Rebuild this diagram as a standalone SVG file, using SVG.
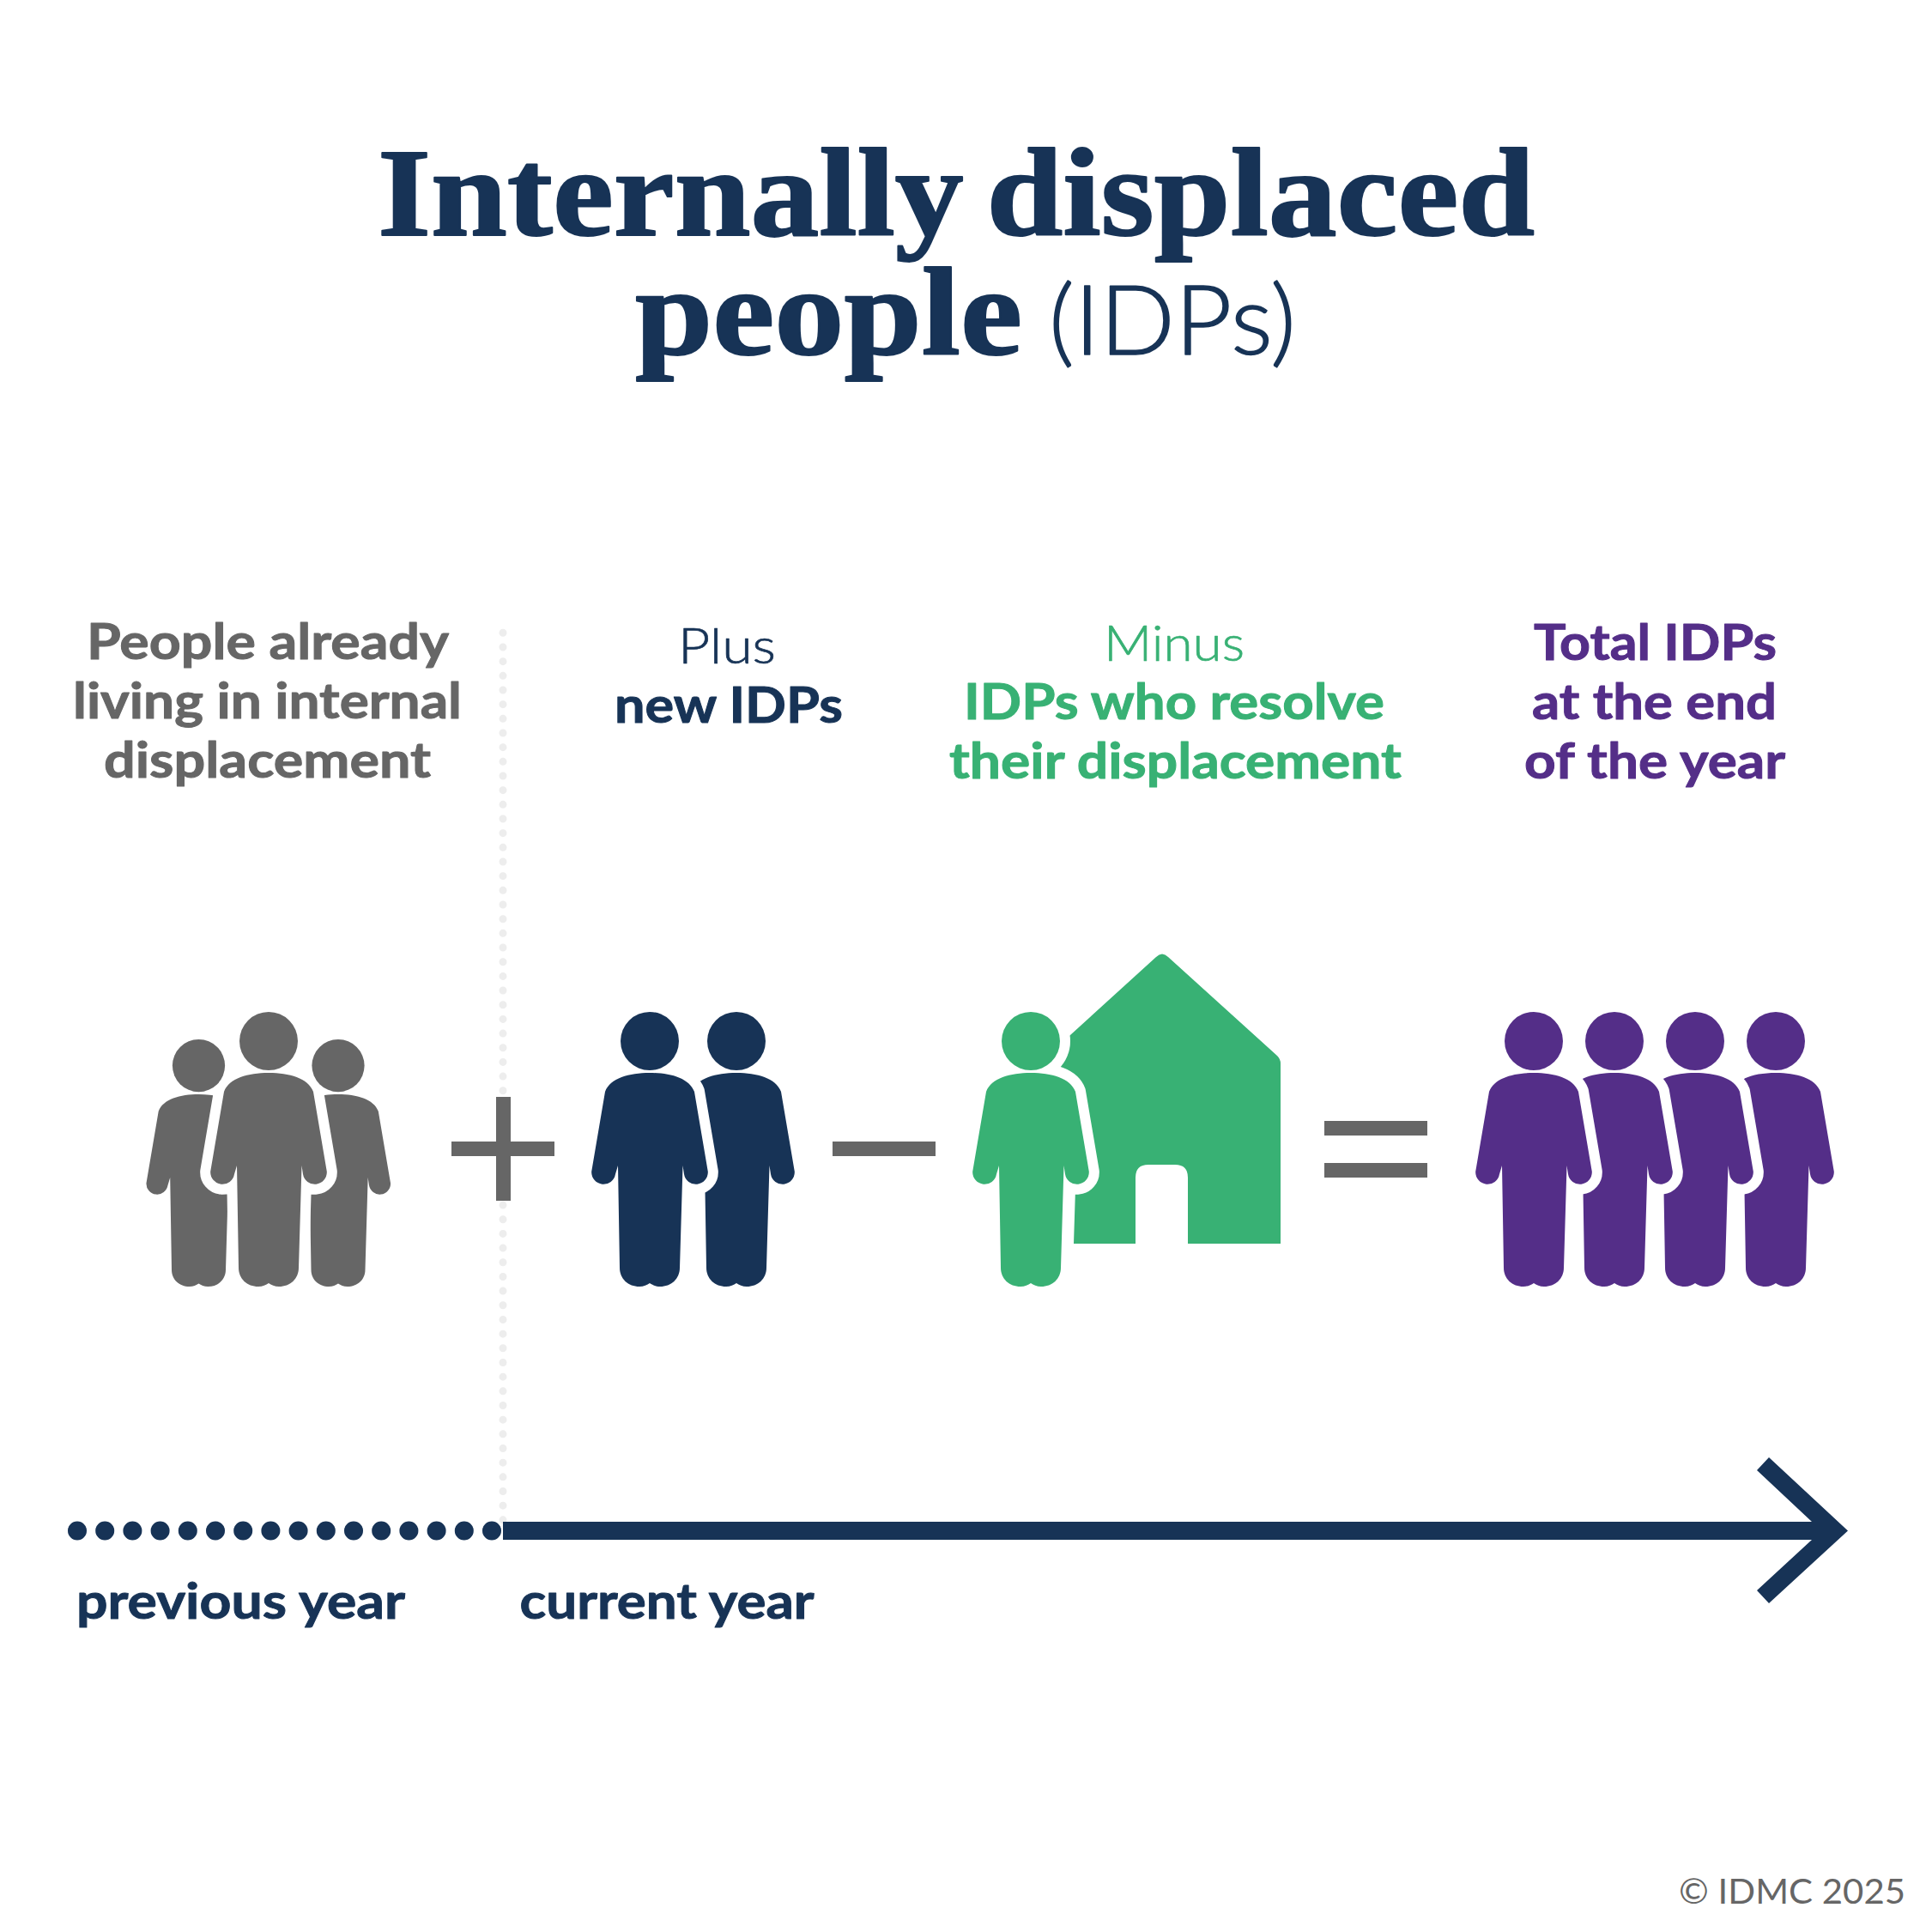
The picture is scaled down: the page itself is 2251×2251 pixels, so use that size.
<svg xmlns="http://www.w3.org/2000/svg" xmlns:xlink="http://www.w3.org/1999/xlink" width="2251" height="2251" viewBox="0 0 2251 2251">
<style>
text{font-family:"Lato","Liberation Sans",sans-serif;font-weight:700;font-size:58px;stroke-width:1;stroke-linejoin:round}
.lt{font-weight:300;stroke-width:.7}
.title{font-family:"Liberation Serif",serif;font-weight:700;font-size:147px;fill:#173356;stroke:#173356;stroke-width:2;word-spacing:-12px}
.navy{fill:#173356}.grey{fill:#666666}.green{fill:#38b174}.purple{fill:#542e88}
.navy text{stroke:#173356}.grey text{stroke:#666666}.green text{stroke:#38b174}.purple text{stroke:#542e88}
.front{stroke:#fff;stroke-width:24;stroke-linejoin:round;paint-order:stroke}
.dots{fill:none;stroke:#173356;stroke-width:22;stroke-linecap:round;stroke-dasharray:0 32.2}
.vdots{fill:none;stroke:#ededed;stroke-width:9;stroke-linecap:round;stroke-dasharray:0 16.67}
</style>
<defs>
<path id="body" d="M0 1250C24 1250 46 1256 52 1272L67.8 1365A14 14 0 0 1 40 1368L38.500 1358L35 1477C35 1490 25 1499 12 1499C7 1499 3 1497 0 1495C-3 1497 -7 1499 -12 1499C-25 1499 -35 1490 -35 1477L-37 1358L-40 1368A14 14 0 0 1 -67.800 1365L-52 1272C-46 1256 -24 1250 0 1250Z"/>
<circle id="head" cx="0" cy="1213" r="34"/>
</defs>
<rect width="2251" height="2251" fill="#fff"/>

<g id="title">
<text class="title" x="440" y="274" textLength="1348" lengthAdjust="spacingAndGlyphs">Internally displaced</text>
<text class="title" x="740" y="413" textLength="451" lengthAdjust="spacingAndGlyphs">people</text>
<text class="lt" x="1222" y="413" style="font-size:112px;fill:#173356;stroke:#173356;stroke-width:1.500" textLength="288" lengthAdjust="spacingAndGlyphs">(IDPs)</text>
</g>

<g id="connectors">
<line class="vdots" x1="586" y1="737.300" x2="586" y2="1772"/>
<line class="dots" x1="90" y1="1783.500" x2="575" y2="1783.500"/>
<path id="timeline-arrow" class="navy" d="M586 1773H2111L2047 1713L2061 1698L2153 1783.500L2061 1868L2047 1853L2111 1794H586Z"/>
</g>

<g id="label-already" class="grey">
<text x="101" y="768" textLength="422" lengthAdjust="spacingAndGlyphs">People already</text>
<text x="85" y="837" textLength="453" lengthAdjust="spacingAndGlyphs">living in internal</text>
<text x="121" y="906" textLength="381" lengthAdjust="spacingAndGlyphs">displacement</text>
</g>
<g id="label-plus" class="navy">
<text class="lt" x="790" y="773" textLength="114" lengthAdjust="spacingAndGlyphs">Plus</text>
<text x="716" y="842" textLength="266" lengthAdjust="spacingAndGlyphs">new IDPs</text>
</g>
<g id="label-minus" class="green">
<text class="lt" x="1286" y="770" textLength="164" lengthAdjust="spacingAndGlyphs">Minus</text>
<text x="1123" y="838" textLength="490" lengthAdjust="spacingAndGlyphs">IDPs who resolve</text>
<text x="1106" y="907" textLength="527" lengthAdjust="spacingAndGlyphs">their displacement</text>
</g>
<g id="label-total" class="purple">
<text x="1787" y="769" textLength="283" lengthAdjust="spacingAndGlyphs">Total IDPs</text>
<text x="1785" y="838" textLength="285" lengthAdjust="spacingAndGlyphs">at the end</text>
<text x="1776" y="907" textLength="304" lengthAdjust="spacingAndGlyphs">of the year</text>
</g>

<g id="people-grey" class="grey">
<use href="#body" transform="translate(231.500 149.900) scale(.9)"/>
<use href="#body" transform="translate(394 149.900) scale(.9)"/>
<use href="#body" class="front" transform="translate(313 0)"/>
<use href="#head" transform="translate(231.500 149.900) scale(.9)"/>
<use href="#head" transform="translate(394 149.900) scale(.9)"/>
<use href="#head" transform="translate(313 0)"/>
</g>

<g id="plus-sign" class="grey">
<rect x="526" y="1330" width="120" height="17"/>
<rect x="578" y="1278" width="17" height="121"/>
</g>

<g id="people-navy" class="navy">
<use href="#body" transform="translate(858 0)"/>
<use href="#body" class="front" transform="translate(757 0)"/>
<use href="#head" transform="translate(757 0)"/>
<use href="#head" transform="translate(858 0)"/>
</g>

<rect id="minus-sign" class="grey" x="970" y="1330" width="120" height="17"/>

<g id="person-house" class="green">
<path d="M1251 1449L1253 1385H1225V1226L1347 1115Q1354 1108 1361 1115L1488 1230Q1492 1234 1492 1239V1449H1384V1372Q1384 1357 1369 1357H1338Q1323 1357 1323 1372V1449Z"/>
<circle cx="1201" cy="1213" r="46" fill="#fff"/>
<use href="#body" class="front" transform="translate(1201 0)"/>
<use href="#head" transform="translate(1201 0)"/>
</g>

<g id="equals-sign" class="grey">
<rect x="1543" y="1306" width="120" height="17"/>
<rect x="1543" y="1355" width="120" height="17"/>
</g>

<g id="people-purple" class="purple">
<use href="#body" transform="translate(2069 0)"/>
<use href="#body" class="front" transform="translate(1975 0)"/>
<use href="#body" class="front" transform="translate(1881 0)"/>
<use href="#body" class="front" transform="translate(1787 0)"/>
<use href="#head" transform="translate(1787 0)"/>
<use href="#head" transform="translate(1881 0)"/>
<use href="#head" transform="translate(1975 0)"/>
<use href="#head" transform="translate(2069 0)"/>
</g>

<g id="year-labels" class="navy">
<text x="89" y="1886" textLength="383" lengthAdjust="spacingAndGlyphs">previous year</text>
<text x="605.500" y="1886" textLength="343" lengthAdjust="spacingAndGlyphs">current year</text>
</g>

<text id="copyright" x="1956" y="2218" style="font-size:41px;font-weight:400;fill:#666666;stroke:none" textLength="264" lengthAdjust="spacingAndGlyphs">© IDMC 2025</text>
</svg>
